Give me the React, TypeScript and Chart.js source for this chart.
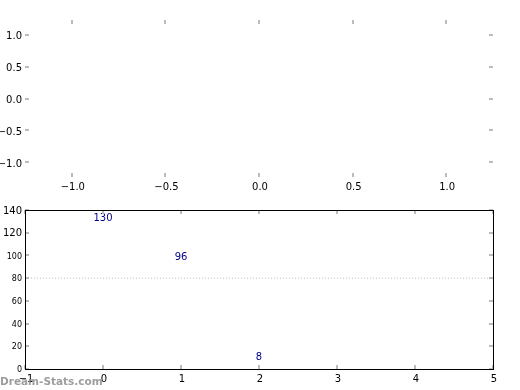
import React, { useEffect, useRef } from "react";
import { Chart, registerables } from "chart.js";
Chart.register(...registerables);

// ---- data ----
const topXTicks = [-1.0, -0.5, 0.0, 0.5, 1.0];
const topYTicks = [-1.0, -0.5, 0.0, 0.5, 1.0];
const topXRange = [-1.25, 1.25];
const topYRange = [-1.23, 1.23];

const bottomXTicks = [-1, 0, 1, 2, 3, 4, 5];
const bottomYTicks = [0, 20, 40, 60, 80, 100, 120, 140];
const bottomXRange = [-1, 5];
const bottomYRange = [0, 140];

const categories = [0, 1, 2];
const values = [130, 96, 8];
const refLineX = [-1, 5];
const refLineY = [80, 80];
const watermark = "Dream-Stats.com";

const FONT = "DejaVu Sans";
const TICK_GRAY = "#bbbbbb";

const fmt1 = (v: number) => {
  const s = Math.abs(v).toFixed(1);
  return v < 0 ? "\u2212" + s : s;
};
const fmt0 = (v: number) => {
  const s = String(Math.abs(Math.round(v)));
  return v < 0 ? "\u2212" + s : s;
};

const innerTicks = {
  id: "innerTicks",
  afterDraw(chart: any) {
    const { ctx, chartArea } = chart;
    const x = chart.scales.x;
    const y = chart.scales.y;
    ctx.save();
    ctx.fillStyle = TICK_GRAY;
    const L = 4;
    x.ticks.forEach((t: any) => {
      const px = Math.round(x.getPixelForValue(t.value));
      ctx.fillRect(px - 1, Math.round(chartArea.top), 2, L);
      ctx.fillRect(px - 1, Math.round(chartArea.bottom) - L, 2, L);
    });
    y.ticks.forEach((t: any) => {
      const py = Math.round(y.getPixelForValue(t.value));
      ctx.fillRect(Math.round(chartArea.left), py - 1, L, 2);
      ctx.fillRect(Math.round(chartArea.right) - L, py - 1, L, 2);
    });
    ctx.restore();
  },
};

const frame = {
  id: "frame",
  afterDraw(chart: any) {
    const { ctx, chartArea } = chart;
    ctx.save();
    ctx.strokeStyle = "#000";
    ctx.lineWidth = 1;
    const l = Math.round(chartArea.left) + 0.5;
    const t = Math.round(chartArea.top) + 0.5;
    const r = Math.round(chartArea.right) + 0.5;
    const b = Math.round(chartArea.bottom) + 0.5;
    ctx.strokeRect(l, t, r - l, b - t);
    ctx.restore();
  },
};

const valueLabels = {
  id: "valueLabels",
  afterDatasetsDraw(chart: any) {
    const { ctx } = chart;
    const meta = chart.getDatasetMeta(1);
    ctx.save();
    ctx.fillStyle = "#00008b";
    ctx.font = `10px "${FONT}"`;
    ctx.textAlign = "center";
    ctx.textBaseline = "alphabetic";
    meta.data.forEach((el: any, i: number) => {
      ctx.fillText(String(values[i]), el.x, el.y);
    });
    ctx.restore();
  },
};

const watermarkPlugin = {
  id: "watermark",
  afterDraw(chart: any) {
    const { ctx } = chart;
    ctx.save();
    ctx.fillStyle = "rgba(140,140,140,0.85)";
    ctx.font = `bold 10.5px "${FONT}"`;
    ctx.textAlign = "left";
    ctx.textBaseline = "alphabetic";
    ctx.fillText(watermark, 0, 385);
    ctx.restore();
  },
};

export default function App() {
  const topRef = useRef<HTMLCanvasElement>(null);
  const botRef = useRef<HTMLCanvasElement>(null);

  useEffect(() => {
    const top = new Chart(topRef.current!, {
      type: "scatter",
      data: { datasets: [{ data: [], pointRadius: 0 }] },
      options: {
        responsive: false,
        animation: false,
        events: [],
        layout: { padding: { left: 0, right: 27, top: 20, bottom: 193 } },
        plugins: { legend: { display: false }, tooltip: { enabled: false } },
        scales: {
          x: {
            type: "linear",
            min: topXRange[0],
            max: topXRange[1],
            grid: { display: false, drawTicks: false },
            border: { display: false },
            afterBuildTicks: (s: any) => {
              s.ticks = topXTicks.map((v) => ({ value: v }));
            },
            afterFit: (s: any) => {
              s.height = 20;
            },
            ticks: {
              padding: 4,
              labelOffset: 1,
              color: "#000",
              font: { family: FONT, size: 10 },
              maxRotation: 0,
              callback: (v: any) => fmt1(Number(v)),
            },
          },
          y: {
            type: "linear",
            min: topYRange[0],
            max: topYRange[1],
            grid: { display: false, drawTicks: false },
            border: { display: false },
            afterBuildTicks: (s: any) => {
              s.ticks = topYTicks.map((v) => ({ value: v }));
            },
            afterFit: (s: any) => {
              s.width = 25;
            },
            ticks: {
              padding: 3,
              labelOffset: 2,
              color: "#000",
              font: { family: FONT, size: 10 },
              callback: (v: any) => fmt1(Number(v)),
            },
          },
        },
      },
      plugins: [innerTicks],
    });

    const bot = new Chart(botRef.current!, {
      type: "scatter",
      data: {
        datasets: [
          {
            data: refLineX.map((x, i) => ({ x, y: refLineY[i] })),
            showLine: true,
            borderColor: "#c0c0c0",
            borderWidth: 1,
            borderDash: [1, 2],
            pointRadius: 0,
          },
          {
            data: categories.map((x, i) => ({ x, y: values[i] })),
            pointRadius: 0,
          },
        ],
      },
      options: {
        responsive: false,
        animation: false,
        events: [],
        layout: { padding: { left: 0, right: 27, top: 210, bottom: 1 } },
        plugins: { legend: { display: false }, tooltip: { enabled: false } },
        scales: {
          x: {
            type: "linear",
            min: bottomXRange[0],
            max: bottomXRange[1],
            grid: { display: false, drawTicks: false },
            border: { display: false },
            afterBuildTicks: (s: any) => {
              s.ticks = bottomXTicks.map((v) => ({ value: v }));
            },
            afterFit: (s: any) => {
              s.height = 20;
            },
            ticks: {
              padding: 4,
              labelOffset: 1,
              color: "#000",
              font: { family: FONT, size: 10 },
              maxRotation: 0,
              callback: (v: any) => fmt0(Number(v)),
            },
          },
          y: {
            type: "linear",
            min: bottomYRange[0],
            max: bottomYRange[1],
            grid: { display: false, drawTicks: false },
            border: { display: false },
            afterBuildTicks: (s: any) => {
              s.ticks = bottomYTicks.map((v) => ({ value: v }));
            },
            afterFit: (s: any) => {
              s.width = 25;
            },
            ticks: {
              padding: 3,
              labelOffset: 1,
              color: "#000",
              font: (c: any) =>
                c.tick && c.tick.value >= 120
                  ? { family: FONT, size: 10 }
                  : { family: FONT, size: 8 },
              callback: (v: any) => fmt0(Number(v)),
            },
          },
        },
      },
      plugins: [innerTicks, valueLabels, frame, watermarkPlugin],
    });

    return () => {
      top.destroy();
      bot.destroy();
    };
  }, []);

  const cs: React.CSSProperties = { position: "absolute", left: 0, top: 0 };
  return (
    <div
      style={{
        position: "fixed",
        left: 0,
        top: 0,
        width: 520,
        height: 390,
        background: "#fff",
      }}
    >
      <canvas ref={topRef} width={520} height={390} style={cs} />
      <canvas ref={botRef} width={520} height={390} style={cs} />
    </div>
  );
}
